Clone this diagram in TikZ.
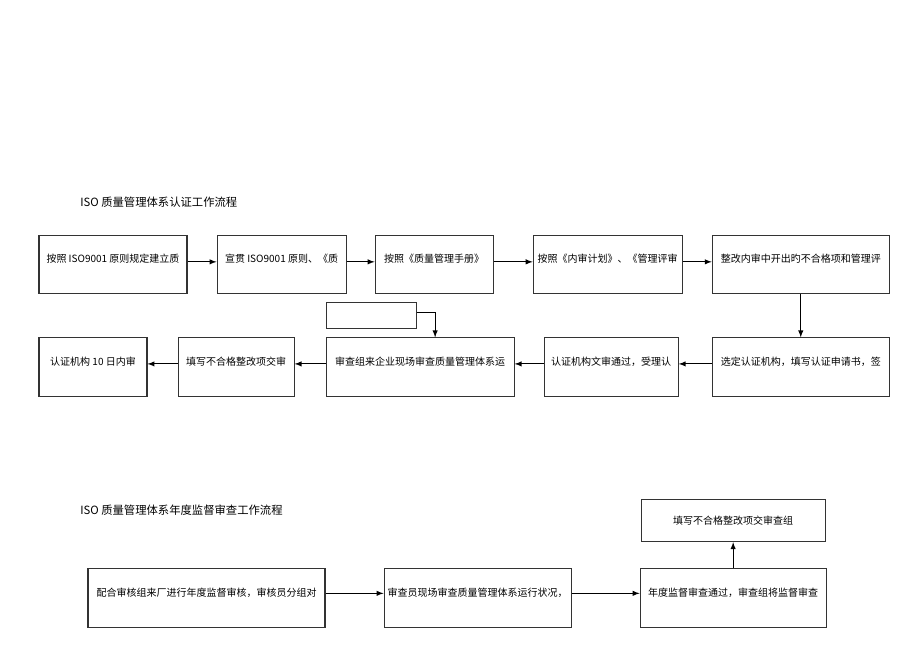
\documentclass[tikz,border=0pt]{standalone}
\usepackage{fontspec}
\newfontfamily\cjk{Noto Sans CJK SC}
\usetikzlibrary{arrows, calc, positioning}
\tikzstyle{block} = [rectangle, draw=black!80, line width=0.8pt, minimum height=44pt, inner sep=0pt, text centered, text height=6pt, text depth=9pt, font=\cjk\fontsize{7.5pt}{9pt}\selectfont]
\tikzstyle{note} = [rectangle, draw=black!80, line width=0.8pt, minimum width=67.5pt, minimum height=20pt, inner sep=0pt]
\tikzstyle{title} = [anchor=west, inner sep=0pt, font=\cjk\fontsize{8.5pt}{10pt}\selectfont]
\tikzstyle{arrow} = [line width=0.8pt,->,>=latex]

\begin{document}
\begin{tikzpicture}[x=0.75pt, y=-0.75pt]
		\useasboundingbox (0,0) rectangle (920,651);
		% certification flow
		\node (Title1) [title] at (80,202) {ISO 质量管理体系认证工作流程};
		\node (Build) [block, minimum width=111pt] at (113,264.5) {按照 ISO9001 原则规定建立质};
		\node (Train) [block, minimum width=96.75pt, right = 21.75pt of Build] {宣贯 ISO9001 原则、《质};
		\node (Manual) [block, minimum width=88.5pt, right = 21pt of Train] {按照《质量管理手册》};
		\node (Audit) [block, minimum width=111.75pt, right = 29.25pt of Manual] {按照《内审计划》、《管理评审};
		\node (Rectify) [block, minimum width=132.75pt, right = 21.75pt of Audit] {整改内审中开出旳不合格项和管理评};
		\node (Apply) [block, minimum width=132.75pt, below = 32.25pt of Rectify] {选定认证机构，填写认证申请书，签};
		\node (Accept) [block, minimum width=100.5pt, left = 24.75pt of Apply] {认证机构文审通过，受理认};
		\node (Onsite) [block, minimum width=141pt, left = 21.75pt of Accept] {审查组来企业现场审查质量管理体系运};
		\node (Submit) [block, minimum width=87pt, left = 23.25pt of Onsite] {填写不合格整改项交审};
		\node (Issue) [block, minimum width=81pt, left = 22.5pt of Submit] {认证机构 10 日内审};
		\node (Notice) [note, above right = 6pt and 0pt of Onsite.north west] {};
		\draw [arrow] ([yshift=2pt]Build.east) -- ([yshift=2pt]Train.west);
		\draw [arrow] ([yshift=2pt]Train.east) -- ([yshift=2pt]Manual.west);
		\draw [arrow] ([yshift=2pt]Manual.east) -- ([yshift=2pt]Audit.west);
		\draw [arrow] ([yshift=2pt]Audit.east) -- ([yshift=2pt]Rectify.west);
		\draw [arrow] (Rectify) -- (Apply);
		\draw [arrow] ([yshift=2.5pt]Apply.west) -- ([yshift=2.5pt]Accept.east);
		\draw [arrow] ([yshift=2.5pt]Accept.west) -- ([yshift=2.5pt]Onsite.east);
		\draw [arrow] ([yshift=2.5pt]Onsite.west) -- ([yshift=2.5pt]Submit.east);
		\draw [arrow] ([yshift=2.5pt]Submit.west) -- ([yshift=2.5pt]Issue.east);
		\draw [arrow] ([yshift=2.5pt]Notice.east) -| ($(Onsite.north)+(15,0)$);
		% annual surveillance flow
		\node (Title2) [title] at (80,510) {ISO 质量管理体系年度监督审查工作流程};
		\node (Cooperate) [block, minimum width=177.75pt] at (206.5,598) {配合审核组来厂进行年度监督审核，审核员分组对};
		\node (Inspect) [block, minimum width=140.25pt, right = 43.5pt of Cooperate] {审查员现场审查质量管理体系运行状况，};
		\node (Pass) [block, minimum width=139.5pt, right = 51pt of Inspect] {年度监督审查通过，审查组将监督审查};
		\node (Report) [block, minimum width=138pt, minimum height=31.5pt, text height=, text depth=, above = 19.5pt of Pass] {填写不合格整改项交审查组};
		\draw [arrow] ([yshift=3.5pt]Cooperate.east) -- ([yshift=3.5pt]Inspect.west);
		\draw [arrow] ([yshift=3.5pt]Inspect.east) -- ([yshift=3.5pt]Pass.west);
		\draw [arrow] (Pass) -- (Report);
\end{tikzpicture}
\end{document}
